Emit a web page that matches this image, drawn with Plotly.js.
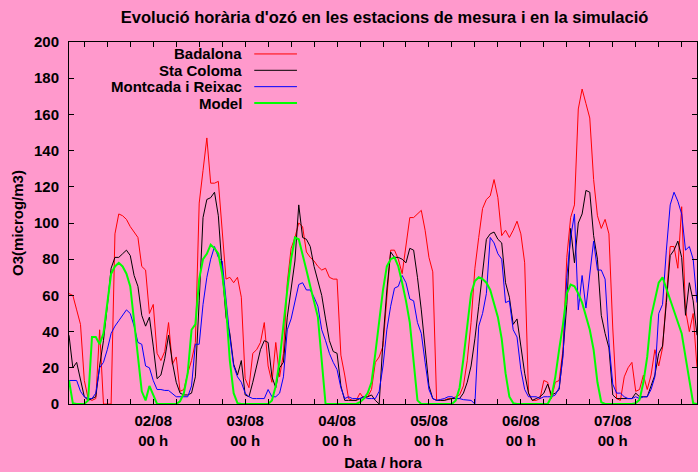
<!DOCTYPE html>
<html>
<head>
<meta charset="utf-8">
<script src="https://cdn.plot.ly/plotly-3.0.1.min.js"></script>
<style>
  html, body { margin: 0; padding: 0; background: #ff99cc; }
  #chart { width: 698px; height: 472px; }
</style>
</head>
<body>
<div id="chart"></div>
<script>
// Hours counted from 01/08 00 h; first sample at 01/08 02 h, one sample per hour
const START_HOUR = 2;

const badalona = [
  61,60,52,44,13,3,2,3,41,0,
  0,0,94,105,104,102,98,95,92,76,
  74,50,55,28,24,29,45,22,26,7,
  8,17,24,34,111,129,147,122,122,123,
  98,69,70,67,70,59,14,9,28,30,
  34,45,21,12,34,15,28,67,86,92,
  100,98,84,81,79,76,74,75,70,69,
  69,27,16,3,2,2,6,3,4,8,
  23,26,32,58,85,85,80,72,88,103,
  103,105,107,96,81,73,2,2,2,3,
  3,4,5,10,24,45,75,92,108,113,
  115,124,114,93,96,92,96,101,94,78,
  6,2,2,3,13,12,3,12,13,30,
  81,103,110,163,174,166,158,124,104,97,
  102,94,42,3,2,15,20,23,7,8,
  16,8,16,30,21,31,60,87,87,75,
  109,52,40,50,20
];

const staColoma = [
  38,20,23,13,4,2,3,4,21,35,
  54,75,81,81,83,85,82,71,65,49,
  43,48,32,14,16,25,38,23,12,6,
  5,5,6,15,57,103,113,114,117,104,
  74,48,39,22,16,24,5,4,12,22,
  30,35,34,15,9,20,23,48,64,79,
  110,92,91,87,76,68,60,47,35,29,
  28,10,2,2,2,2,3,4,4,5,
  2,0,35,63,84,81,81,80,78,86,
  85,70,52,32,10,3,2,2,2,2.5,
  3,3,3,6,12,21,36,54,72,91,
  94,95,91,89,67,59,44,47,32,17,
  6,2,3,4,6,11,5,6,8,28,
  55,97,78,100,105,118,117,93,80,49,
  39,31,5,3,3,3,3,3,6,4,
  4,4,10,16,28,32,56,82,85,90,
  81,49,67,57,38
];

const montcada = [
  13,13,13,7,4,3,3,6,20,23,
  30,39,43,46,49,52,50,43,34,33,
  21,20,13,8,8,7.5,7.5,6,4,4,
  4,4,10,33,33,55,70,80,87,81,
  79,57,37,21,15,12,6,4,3,3,
  3,3,8,4,4,6,15,41,47,56,
  66,67,63,63,59,54,41,35,28,23,
  19,9,3,4,3,3,3,4,3,3,
  3,7,21,41,54,64,65,71,67,58,
  57,45,39,23,8,3,2,2.5,3,4,
  4,3,3,2.4,2,2,0,43,50,61,
  92,89,83,80,56,57,41,37,19,8,
  4,4,4,3,4,4,4,5,9,26,
  70,92,105,52,71,53,71,90,74,74,
  69,34,11,6,6,4,3,3,4,3,
  4,4,8,15,50,55,85,110,117,112,
  105,85,87,80,56
];

const model = [
  13,0.5,0,0,0,2,37,37,33,39,
  57,72,76,78,76,72,65,46,24,7,
  2,10,5,0,0,0,0,0,0,1.5,
  6,17,41,44,69,80,83,88,86,83,
  72,54,24,6,0.5,0,0,0,0,0,
  0,0,0,2,10,24,45,63,80,92,
  91,83,74,65,57,48,24,0,0,0,
  0,0,0,0,0,0,1,3,6,12,
  28,46,63,76,80,81,76,67,57,45,
  23,2,0,0,0,0,0,0,0,0,
  0,2,9,25,44,61,68,70,69,67,
  63,56,48,36,17,4,0.5,0,0,0,
  0,0,0,0,0,0,4,15,30,44,
  61,66,65,61,56,48,41,30,12,1,
  0,0,0,0,0,0,0,0,0.5,2.4,
  12,26,48,58,67,70,64,57,52,46,
  39,26,12,0.5,0
];

const seriesNames = ['Badalona', 'Sta Coloma', 'Montcada i Reixac', 'Model'];
const dayTickHours = [24, 48, 72, 96, 120, 144];
const dayTickLabels = ['02/08<br>00 h', '03/08<br>00 h', '04/08<br>00 h', '05/08<br>00 h', '06/08<br>00 h', '07/08<br>00 h'];

const seriesData = [badalona, staColoma, montcada, model];
const colors = ['#ff0000', '#000000', '#0000ff', '#00ff00'];
const widths = [1, 1, 1, 2];

const hours = badalona.map((_, i) => START_HOUR + i);

const traces = seriesData.map((vals, k) => ({
  type: 'scatter',
  mode: 'lines',
  name: seriesNames[k],
  x: hours,
  y: vals,
  line: { color: colors[k], width: widths[k] },
  showlegend: false,
  hoverinfo: 'skip'
}));

const FAMILY = 'Liberation Sans, Arial, sans-serif';
const font = { family: FAMILY, size: 15, color: '#000', weight: 'bold' };

// gnuplot-like legend: text on the left, line sample on the right
const legY0 = 0.967, legStep = 0.0452;
const annotations = seriesNames.map((n, k) => ({
  xref: 'paper', yref: 'paper',
  x: 0.279, y: legY0 - k * legStep,
  xanchor: 'right', yanchor: 'middle',
  text: n, showarrow: false, font: font
}));
const shapes = seriesNames.map((n, k) => ({
  type: 'line', xref: 'paper', yref: 'paper',
  x0: 0.295, x1: 0.363,
  y0: legY0 - k * legStep, y1: legY0 - k * legStep,
  line: { color: colors[k], width: widths[k] }
}));

const layout = {
  width: 698, height: 472,
  paper_bgcolor: '#ff99cc',
  plot_bgcolor: '#ff99cc',
  font: font,
  margin: { l: 69, r: 1, t: 42, b: 68 },
  title: {
    text: "Evolució horària d'ozó en les estacions de mesura i en la simulació",
    font: { family: FAMILY, size: 16.5, color: '#000', weight: 'bold' },
    x: 0.551, xanchor: 'center', y: 0.963, yanchor: 'middle'
  },
  xaxis: {
    range: [2, 166],
    tickmode: 'array',
    tickvals: dayTickHours,
    ticktext: dayTickLabels,
    ticks: 'inside', ticklen: 5, tickcolor: '#000', tickwidth: 1,
    minor: { dtick: 6, tick0: 0, ticks: 'inside', ticklen: 5, tickcolor: '#000', showgrid: false },
    showline: true, linecolor: '#000', linewidth: 1, mirror: 'ticks',
    showgrid: false, zeroline: false,
    ticklabelstandoff: 3,
    title: { text: 'Data / hora', font: font, standoff: 9 }
  },
  yaxis: {
    range: [0, 200],
    dtick: 20, tick0: 0,
    ticks: 'inside', ticklen: 5, tickcolor: '#000', tickwidth: 1,
    showline: true, linecolor: '#000', linewidth: 1, mirror: 'ticks',
    showgrid: false, zeroline: false,
    ticklabelstandoff: 6,
    title: { text: 'O3(microg/m3)', font: font, standoff: 6 }
  },
  annotations: annotations,
  shapes: shapes
};

Plotly.newPlot('chart', traces, layout, { displayModeBar: false, staticPlot: true });
</script>
</body>
</html>
